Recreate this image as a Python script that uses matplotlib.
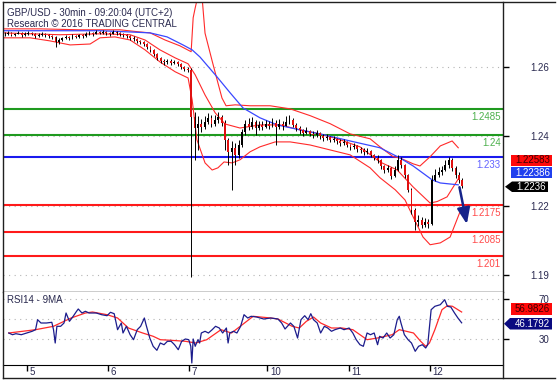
import matplotlib
matplotlib.use("Agg")
import matplotlib.pyplot as plt
from matplotlib.patches import Polygon
from matplotlib.lines import Line2D

plt.rcParams['font.family'] = ['Liberation Sans', 'DejaVu Sans']

W, H = 557, 381

# hourly bars, x = hours since chart start (4 Oct 17:00, UTC+2)
close = [
    1.2728, 1.2731, 1.2725, 1.2728, 1.2731, 1.2725, 1.2728, 1.2731, 1.2728, 1.2721,
    1.2725, 1.2728, 1.2725, 1.2721, 1.2718, 1.2702, 1.2708, 1.2715, 1.2718, 1.2715,
    1.2721, 1.2718, 1.2725, 1.2721, 1.2728, 1.2731, 1.2728, 1.2734, 1.2731, 1.2734,
    1.2731, 1.2728, 1.2734, 1.2731, 1.2728, 1.2725, 1.2721, 1.2715, 1.2712, 1.2705,
    1.2702, 1.2695, 1.2686, 1.2676, 1.2663, 1.2650, 1.2640, 1.2637, 1.2640, 1.2634,
    1.2637, 1.2631, 1.2621, 1.2615, 1.2611, 1.2460, 1.2423, 1.2436, 1.2427, 1.2443,
    1.2456, 1.2436, 1.2449, 1.2459, 1.2440, 1.2385, 1.2346, 1.2359, 1.2336, 1.2368,
    1.2411, 1.2436, 1.2427, 1.2443, 1.2423, 1.2433, 1.2427, 1.2436, 1.2430, 1.2440,
    1.2427, 1.2436, 1.2430, 1.2443, 1.2449, 1.2433, 1.2423, 1.2417, 1.2407, 1.2414,
    1.2404, 1.2401, 1.2407, 1.2398, 1.2391, 1.2394, 1.2385, 1.2388, 1.2381, 1.2375,
    1.2378, 1.2368, 1.2362, 1.2365, 1.2355, 1.2352, 1.2346, 1.2349, 1.2336, 1.2326,
    1.2320, 1.2300, 1.2287, 1.2294, 1.2268, 1.2287, 1.2320, 1.2304, 1.2271, 1.2223,
    1.2158, 1.2119, 1.2126, 1.2109, 1.2119, 1.2113, 1.2255, 1.2271, 1.2281, 1.2287,
    1.2304, 1.2320, 1.2294, 1.2271, 1.2255, 1.2236]
high = [
    1.2734, 1.2736, 1.2733, 1.2732, 1.2737, 1.2733, 1.2733, 1.2736, 1.2735, 1.2730,
    1.2730, 1.2733, 1.2731, 1.2728, 1.2725, 1.2720, 1.2714, 1.2719, 1.2724, 1.2722,
    1.2726, 1.2725, 1.2729, 1.2728, 1.2733, 1.2737, 1.2735, 1.2739, 1.2738, 1.2740,
    1.2737, 1.2735, 1.2739, 1.2738, 1.2734, 1.2732, 1.2729, 1.2724, 1.2720, 1.2715,
    1.2709, 1.2705, 1.2698, 1.2690, 1.2680, 1.2666, 1.2653, 1.2646, 1.2647, 1.2645,
    1.2644, 1.2640, 1.2634, 1.2625, 1.2620, 1.2618, 1.2475, 1.2462, 1.2452, 1.2462,
    1.2472, 1.2466, 1.2465, 1.2476, 1.2466, 1.2449, 1.2390, 1.2380, 1.2375, 1.2385,
    1.2420, 1.2450, 1.2455, 1.2460, 1.2450, 1.2446, 1.2445, 1.2450, 1.2446, 1.2455,
    1.2449, 1.2452, 1.2446, 1.2462, 1.2466, 1.2455, 1.2440, 1.2430, 1.2420, 1.2425,
    1.2418, 1.2412, 1.2415, 1.2410, 1.2402, 1.2404, 1.2398, 1.2396, 1.2392, 1.2386,
    1.2388, 1.2382, 1.2372, 1.2374, 1.2368, 1.2362, 1.2357, 1.2358, 1.2352, 1.2340,
    1.2334, 1.2322, 1.2304, 1.2302, 1.2296, 1.2300, 1.2336, 1.2330, 1.2308, 1.2275,
    1.2230, 1.2165, 1.2140, 1.2135, 1.2130, 1.2128, 1.2270, 1.2290, 1.2296, 1.2300,
    1.2320, 1.2330, 1.2325, 1.2300, 1.2280, 1.2262]
low = [
    1.2722, 1.2725, 1.2720, 1.2721, 1.2726, 1.2719, 1.2722, 1.2724, 1.2723, 1.2716,
    1.2718, 1.2722, 1.2719, 1.2716, 1.2712, 1.2686, 1.2695, 1.2704, 1.2710, 1.2709,
    1.2712, 1.2713, 1.2715, 1.2716, 1.2719, 1.2725, 1.2722, 1.2726, 1.2726, 1.2728,
    1.2725, 1.2722, 1.2726, 1.2725, 1.2721, 1.2718, 1.2715, 1.2709, 1.2706, 1.2699,
    1.2694, 1.2688, 1.2679, 1.2670, 1.2656, 1.2643, 1.2632, 1.2628, 1.2630, 1.2627,
    1.2629, 1.2624, 1.2615, 1.2609, 1.2605, 1.1941, 1.2320, 1.2352, 1.2410, 1.2420,
    1.2435, 1.2425, 1.2430, 1.2440, 1.2430, 1.2352, 1.2304, 1.2223, 1.2304, 1.2325,
    1.2360, 1.2400, 1.2415, 1.2420, 1.2400, 1.2415, 1.2418, 1.2422, 1.2420, 1.2425,
    1.2368, 1.2420, 1.2418, 1.2430, 1.2436, 1.2425, 1.2412, 1.2405, 1.2398, 1.2402,
    1.2396, 1.2390, 1.2395, 1.2388, 1.2382, 1.2385, 1.2378, 1.2378, 1.2372, 1.2366,
    1.2368, 1.2360, 1.2352, 1.2355, 1.2346, 1.2342, 1.2336, 1.2338, 1.2328, 1.2318,
    1.2310, 1.2290, 1.2278, 1.2280, 1.2258, 1.2265, 1.2285, 1.2295, 1.2262, 1.2215,
    1.2145, 1.2093, 1.2105, 1.2098, 1.2102, 1.2100, 1.2110, 1.2250, 1.2265, 1.2270,
    1.2285, 1.2295, 1.2285, 1.2262, 1.2245, 1.2230]

# Bollinger bands (red) and moving average (blue), read at sample times
bb_up_t = [0, 10.9, 22.7, 34.5, 40.4, 43.4, 47.8, 52.2, 55.5, 56.1, 56.7, 57.5, 58.7,
           59.6, 61.7, 63.4, 64.6, 65.8, 68.5, 72.9, 78.8, 84.7, 90.6, 96.5, 102.4,
           108.3, 111.2, 115.1, 117.1, 121.0, 123.0, 126.0, 129.0, 132.5, 134.3]
bb_up = [1.2744, 1.2744, 1.2741, 1.2741, 1.2734, 1.2731, 1.2708, 1.2689, 1.2670, 1.2780,
         1.2812, 1.2850, 1.2850, 1.2730, 1.2640, 1.2569, 1.2520, 1.2495, 1.2498, 1.2495,
         1.2495, 1.2485, 1.2463, 1.2437, 1.2404, 1.2388, 1.2362, 1.2330, 1.2326, 1.2307,
         1.2300, 1.2330, 1.2365, 1.2381, 1.2359]
bb_mid_t = [0, 16.8, 28.6, 37.5, 41.9, 46.3, 50.8, 54.6, 56.7, 59.6, 62.6, 65.5, 69.9,
            75.8, 81.7, 87.6, 93.5, 99.4, 105.3, 111.2, 116.3, 121.0, 126.0, 128.1,
            131.0, 134.3]
bb_mid = [1.2731, 1.2725, 1.2728, 1.2725, 1.2708, 1.2676, 1.2650, 1.2631, 1.2595, 1.2530,
          1.2472, 1.2436, 1.2423, 1.2433, 1.2433, 1.2417, 1.2404, 1.2385, 1.2362, 1.2313,
          1.2287, 1.2232, 1.2180, 1.2185, 1.2200, 1.2258]
bb_lo_t = [0, 8.0, 13.9, 19.8, 25.7, 28.6, 33.0, 37.5, 41.9, 46.3, 50.8, 54.6, 55.8,
           57.2, 59.6, 61.7, 63.4, 65.2, 67.6, 69.9, 72.9, 75.8, 80.3, 84.7, 90.6,
           96.5, 102.4, 108.3, 111.2, 115.7, 118.6, 121.0, 123.9, 126.0, 129.0, 131.9, 134.8]
bb_lo = [1.2715, 1.2715, 1.2705, 1.2692, 1.2695, 1.2715, 1.2718, 1.2708, 1.2676, 1.2637,
         1.2605, 1.2585, 1.2514, 1.2385, 1.2310, 1.2287, 1.2294, 1.2313, 1.2310, 1.2320,
         1.2346, 1.2362, 1.2378, 1.2378, 1.2368, 1.2352, 1.2336, 1.2294, 1.2262, 1.2223,
         1.2190, 1.2135, 1.2070, 1.2045, 1.2051, 1.2070, 1.2151]
ma_t = [0, 13.9, 28.6, 37.5, 43.4, 48.4, 53.1, 55.8, 58.1, 63.1, 67.0, 70.8, 75.8, 80.9,
        87.6, 93.5, 102.4, 111.2, 117.1, 121.0, 126.6, 129.0, 134.3]
ma = [1.2738, 1.2738, 1.2738, 1.2734, 1.2731, 1.2718, 1.2692, 1.2676, 1.2653, 1.2589,
      1.2537, 1.2488, 1.2456, 1.2433, 1.2417, 1.2404, 1.2381, 1.2359, 1.2326, 1.2300,
      1.2255, 1.2245, 1.2239]

# support / resistance levels
levels = [1.2485, 1.24, 1.233, 1.2175, 1.2085, 1.201]
level_labels = ['1.2485', '1.24', '1.233', '1.2175', '1.2085', '1.201']
level_colors = ['#1f9a1f', '#1f9a1f', '#1a1aee', '#ff1a1a', '#ff1a1a', '#ff1a1a']
label_colors = ['#4cb04c', '#4cb04c', '#6262ff', '#ff4a4a', '#ff4a4a', '#ff4a4a']

# RSI14 and its 9-period average
rsi_t = [1.7, 2.8, 3.8, 5.4, 7.0, 8.6, 9.6, 10.2, 11.2, 12.8, 14.4, 14.9, 15.4, 15.9,
         17.0, 18.0, 18.6, 19.6, 20.7, 21.7, 22.2, 23.3, 24.3, 25.4, 26.4, 27.5, 29.1,
         30.7, 31.7, 32.8, 33.8, 34.9, 35.4, 36.4, 37.5, 38.5, 39.6, 40.6, 41.7, 42.2,
         43.3, 44.3, 45.4, 46.4, 47.5, 48.5, 49.6, 50.6, 51.7, 52.7, 53.8, 54.8, 55.4,
         55.7, 56.1, 56.7, 57.5, 58.0, 58.5, 59.6, 60.6, 61.7, 62.7, 63.8, 64.8, 65.9,
         66.4, 66.9, 68.0, 69.0, 70.1, 71.1, 72.2, 73.2, 74.8, 76.9, 79.0, 81.1, 82.2,
         83.2, 84.8, 85.8, 86.9, 87.9, 89.0, 90.0, 90.8, 91.6, 92.7, 93.7, 94.8, 95.8,
         96.9, 97.9, 99.5, 100.6, 102.1, 103.2, 104.2, 105.3, 106.3, 107.4, 108.4, 109.5,
         110.5, 111.1, 112.1, 113.2, 114.2, 115.3, 116.3, 116.9, 117.4, 118.4, 119.5,
         120.5, 121.6, 122.6, 123.7, 124.7, 125.3, 126.3, 127.4, 129.0, 130.3, 131.1,
         132.1, 133.2, 134.2, 135.3]
rsi = [36.0, 34.3, 35.3, 34.3, 36.0, 37.7, 39.3, 49.3, 46.0, 46.0, 46.7, 39.3, 26.0, 42.7,
       42.7, 46.0, 56.0, 47.7, 52.7, 57.7, 60.0, 56.0, 57.7, 56.0, 56.0, 56.0, 54.3,
       53.3, 56.7, 55.3, 39.3, 46.0, 36.0, 42.7, 34.3, 29.3, 39.3, 42.7, 51.0, 44.3,
       31.0, 22.7, 18.7, 26.0, 24.3, 27.7, 27.7, 24.3, 19.3, 27.7, 30.0, 29.3, 22.7,
       6.0, 30.0, 22.7, 29.3, 26.0, 36.0, 37.7, 36.0, 39.3, 42.7, 41.0, 36.0, 41.0,
       26.0, 36.0, 37.7, 36.0, 42.7, 54.3, 51.0, 52.7, 52.0, 50.0, 51.0, 50.0, 46.0,
       40.0, 46.0, 42.7, 31.0, 49.3, 53.3, 49.3, 55.3, 49.3, 46.0, 36.0, 42.7, 41.0,
       37.7, 39.3, 41.0, 39.3, 41.0, 36.0, 29.3, 24.3, 22.7, 36.0, 34.3, 36.0,
       24.3, 32.7, 31.0, 36.0, 31.0, 34.3, 49.3, 52.7, 46.0, 34.3, 29.3,
       26.0, 17.7, 22.7, 24.3, 21.0, 24.3, 59.3, 62.7, 64.3, 69.3, 62.7,
       62.0, 56.0, 51.0, 46.18]
rsi_ma_t = [1.7, 9.6, 14.9, 20.1, 24.3, 26.4, 30.7, 33.8, 37.0, 41.2, 44.3, 46.4, 49.6,
            53.8, 56.9, 60.1, 64.3, 67.4, 70.6, 73.8, 79.0, 81.1, 85.3, 87.4, 89.5, 91.6,
            93.7, 96.9, 100.0, 103.2, 105.3, 107.4, 110.5, 114.8, 116.9, 119.0, 121.1,
            123.2, 124.7, 125.8, 127.4, 129.5, 131.1, 132.6, 134.2, 135.3]
rsi_ma = [36.0, 39.3, 42.7, 51.0, 56.0, 57.0, 54.3, 51.0, 41.0, 36.0, 32.7, 29.3, 28.7,
          27.7, 26.0, 29.3, 39.3, 36.0, 44.3, 52.7, 51.0, 50.0, 42.7, 41.0, 47.7, 52.0,
          46.0, 41.0, 41.0, 39.3, 34.3, 29.3, 31.0, 34.3, 39.3, 37.7, 36.0, 27.7, 22.7,
          26.0, 39.3, 59.3, 63.3, 62.7, 59.3, 56.98]

day_t = [7, 31, 55, 78, 102, 126]
day_labels = ['5', '6', '7', '10', '11', '12']
price_ticks = [1.2621, 1.2397, 1.2172, 1.1948]
price_tick_labels = ['1.26', '1.24', '1.22', '1.19']
rsi_ticks = [70, 30]

last_mid, last_ma, last_close = '1.22583', '1.22386', '1.2236'
last_rsi_ma, last_rsi = '56.9826', '46.1792'
target = (137.0, 1.2103)


def fx(px):
    return px / W


def fy(py):
    return 1 - py / H


fig = plt.figure(figsize=(W / 100, H / 100), dpi=100)
fig.patch.set_facecolor('white')

ax = fig.add_axes([fx(3), fy(292.3), fx(503) - fx(3), fy(2) - fy(292.3)])
ax_r = fig.add_axes([fx(3), fy(365), fx(503) - fx(3), fy(292.3) - fy(365)])

txt_col = '#2a2a50'

# ---- price panel
ax.set_xlim(0, 147.5)
ax.set_ylim(1.1891, 1.2831)
for v in price_ticks:
    ax.axhline(v, color='#b4b4b4', lw=0.8, ls=(0, (1, 4)), zorder=0)
for v, lab, c, lc in zip(levels, level_labels, level_colors, label_colors):
    ax.axhline(v, color=c, lw=1.5, zorder=1)
    ax.annotate(lab, xy=(1, v), xycoords=('axes fraction', 'data'), xytext=(-1.5, -2.2),
                textcoords='offset points', ha='right', va='top', color=lc, fontsize=7)

ax.plot(bb_up_t, bb_up, color='#ff2a2a', lw=0.8, zorder=3)
ax.plot(bb_mid_t, bb_mid, color='#ff2a2a', lw=0.8, zorder=3)
ax.plot(bb_lo_t, bb_lo, color='#ff2a2a', lw=0.8, zorder=3)
ax.plot(ma_t, ma, color='#3a48ff', lw=0.9, zorder=3)

xs = [i + 0.5 for i in range(len(close))]
opens = [close[0]] + close[:-1]
ax.vlines(xs, low, high, color='black', lw=0.7, zorder=4)
for x, o, c in zip(xs, opens, close):
    col = 'black' if c >= o else '#e01010'
    ax.bar(x, c - o if c != o else 0.00005, bottom=o, width=0.55, color=col, lw=0, zorder=5)

ax.annotate('', xy=target, xytext=(134.5, 1.2240),
            arrowprops=dict(arrowstyle='-|>,head_length=0.8,head_width=0.32',
                            color='#15238a', lw=1.8, mutation_scale=12), zorder=6)

ax.yaxis.tick_right()
ax.set_yticks(price_ticks)
ax.set_yticklabels(price_tick_labels)
ax.tick_params(axis='y', direction='out', length=4, width=1, pad=29.5,
               labelsize=7, labelcolor=txt_col)
for t in ax.get_yticklabels():
    t.set_horizontalalignment('right')
ax.set_xticks([])
for s in ['top', 'left', 'right']:
    ax.spines[s].set_visible(False)
ax.spines['bottom'].set_linewidth(1)

# ---- RSI panel
ax_r.set_xlim(0, 147.5)
ax_r.set_ylim(4.0, 76.7)
for v in [70, 50, 30]:
    ax_r.axhline(v, color='#b4b4b4', lw=0.8, ls=(0, (1, 4)), zorder=0)
ax_r.plot(rsi_ma_t, rsi_ma, color='#ff2a2a', lw=0.9, zorder=3)
ax_r.plot(rsi_t, rsi, color='#1c1c8c', lw=0.9, zorder=4)
ax_r.yaxis.tick_right()
ax_r.set_yticks(rsi_ticks)
ax_r.set_yticklabels([str(v) for v in rsi_ticks])
ax_r.tick_params(axis='y', direction='out', length=4, width=1, pad=29.5,
                 labelsize=7, labelcolor=txt_col)
for t in ax_r.get_yticklabels():
    t.set_horizontalalignment('right')
ax_r.set_xticks(day_t)
ax_r.tick_params(axis='x', direction='out', length=4, width=1, labelbottom=False)
for t, lab in zip(day_t, day_labels):
    ax_r.annotate(lab, xy=(t, 0), xycoords=('data', 'axes fraction'), xytext=(1.8, -1.2),
                  textcoords='offset points', ha='left', va='top', fontsize=7, color=txt_col)
for s in ['top', 'left', 'right']:
    ax_r.spines[s].set_visible(False)

# ---- frame
for xs_, ys_ in [([3, 555], [2, 2]), ([3, 555], [378, 378]), ([3, 3], [2, 378]),
                 ([503, 503], [2, 378])]:
    fig.add_artist(Line2D([fx(v) for v in xs_], [fy(v) for v in ys_], color='#202020',
                          lw=1, transform=fig.transFigure))

# ---- titles
fig.text(fx(7), fy(13), 'GBP/USD - 30min - 09:20:04 (UTC+2)', fontsize=7, color=txt_col,
         va='center', ha='left')
fig.text(fx(7), fy(24), 'Research \u00a9 2016 TRADING CENTRAL', fontsize=7, color=txt_col,
         va='center', ha='left')
fig.text(fx(7), fy(300), 'RSI14 - 9MA', fontsize=7, color=txt_col, va='center', ha='left')


# ---- value boxes on the right
def box(x0, x1, y0, y1, fc, text, tc, tip=None):
    pts = [(x0, y0), (x1, y0), (x1, y1), (x0, y1)]
    if tip is not None:
        pts = [(x0, y0), (x1, y0), (x1, y1), (x0, y1), (tip, (y0 + y1) / 2)]
    poly = Polygon([(fx(a), fy(b)) for a, b in pts], closed=True, facecolor=fc,
                   edgecolor='none', transform=fig.transFigure)
    fig.add_artist(poly)
    fig.text(fx((x0 + x1) / 2 + 1), fy((y0 + y1) / 2), text, fontsize=7, color=tc,
             ha='center', va='center')


box(511, 552, 155, 166, '#ff0a0a', last_mid, '#400000')
box(511, 552, 167, 178, '#2040ee', last_ma, 'white')
box(512, 548, 181.5, 192, 'black', last_close, 'white', tip=505)
box(511, 552, 303, 315, '#ff0a0a', last_rsi_ma, '#400000')
box(510, 552, 318, 329.5, '#0a0a80', last_rsi, 'white', tip=504)

fig.savefig('out.png', dpi=100, facecolor='white')
